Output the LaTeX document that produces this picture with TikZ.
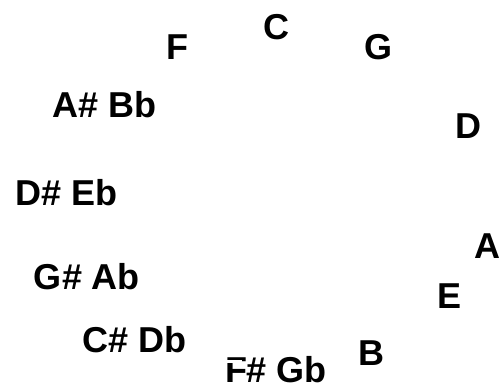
\documentclass[tikz,border=0pt]{standalone}
\usepackage{fontspec}
\setmainfont{Liberation Sans}
\begin{document}
\begin{tikzpicture}[x=1pt,y=-1pt,
  note/.style={font=\fontsize{36}{40}\selectfont\bfseries, inner sep=0pt, anchor=center}]
\useasboundingbox (0,0) rectangle (502,387);
\node[note] (c)   at (276,27)  {C};
\node[note] (f)   at (177,47)  {F};
\node[note] (g)   at (378,47)  {G};
\node[note] (ais) at (105,105) {A\# Bb};
\node[note] (d)   at (468,126) {D};
\node[note] (dis) at (67,193)  {D\# Eb};
\node[note] (a)   at (487,246) {A};
\node[note] (gis) at (87,277)  {G\# Ab};
\node[note] (e)   at (449,296) {E};
\node[note] (cis) at (135,340) {C\# Db};
\node[note] (b)   at (371,353) {B};
\node[note] (fis) at (276,370) {F\# Gb};
\fill[white] (222,360) rectangle (242,363);
\end{tikzpicture}
\end{document}
